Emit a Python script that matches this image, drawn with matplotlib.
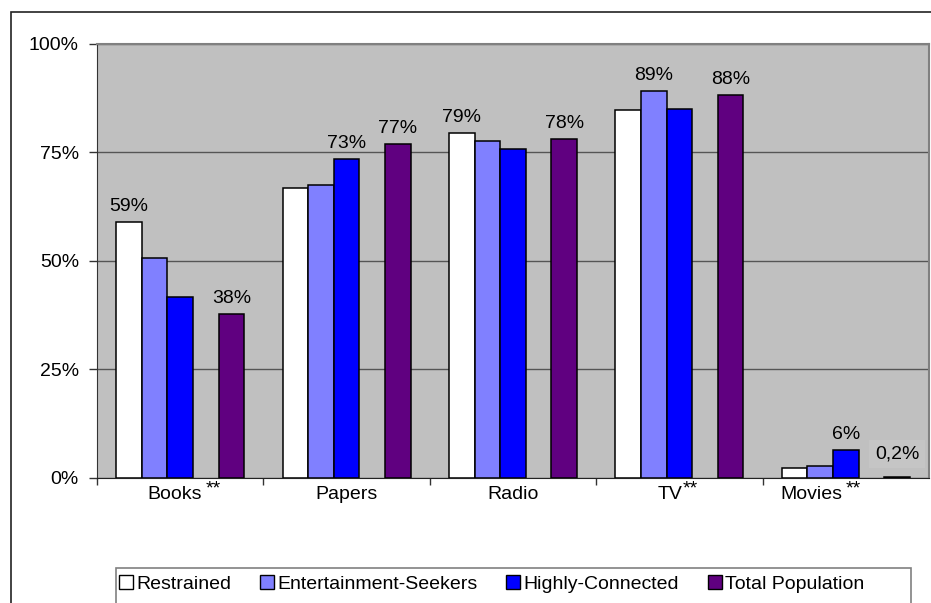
import matplotlib
matplotlib.use("Agg")
import matplotlib.pyplot as plt
from matplotlib.patches import Rectangle, Patch
from matplotlib.ticker import FixedLocator, NullFormatter
import numpy as np

plt.rcParams['font.family'] = ['Liberation Sans', 'DejaVu Sans']

categories = ["Books", "Papers", "Radio", "TV", "Movies"]
starred = [True, False, False, True, True]

series_names = ["Restrained", "Entertainment-Seekers", "Highly-Connected", "Total Population"]
restrained = [58.9, 66.7, 79.3, 84.6, 2.2]
ent_seekers = [50.6, 67.4, 77.6, 89.1, 2.8]
highly_conn = [41.7, 73.4, 75.7, 84.9, 6.4]
total_pop = [37.7, 76.9, 78.0, 88.1, 0.2]

# which bars carry a value label: (series index, category index, text)
value_labels = [
    (0, 0, "59%"), (3, 0, "38%"),
    (2, 1, "73%"), (3, 1, "77%"),
    (0, 2, "79%"), (3, 2, "78%"),
    (1, 3, "89%"), (3, 3, "88%"),
    (2, 4, "6%"), (3, 4, "0,2%"),
]

colors = ["#ffffff", "#8080ff", "#0000ff", "#600080"]
slots = [0, 1, 2, 4]          # fifth slot is left empty, like the sheet has it
all_series = [restrained, ent_seekers, highly_conn, total_pop]

FS = 14

fig = plt.figure(figsize=(9.31, 6.03), dpi=100)
W, H = 931.0, 603.0
ax = fig.add_axes([97 / W, 1 - 478 / H, 832 / W, (478 - 43.5) / H])
ax.set_facecolor("#c0c0c0")

cat_w = 166.4
bw = 25.6 / cat_w
margin = 19.2 / cat_w
x = np.arange(len(categories))

bars = []
for s, vals in enumerate(all_series):
    offs = -0.5 + margin + bw * (slots[s] + 0.5)
    b = ax.bar(x + offs, vals, width=bw, color=colors[s], edgecolor="black",
               linewidth=1.1, zorder=3, label=series_names[s])
    bars.append(b)

for s, c, txt in value_labels:
    rect = bars[s][c]
    cx = rect.get_x() + rect.get_width() / 2
    if txt == "0,2%":
        ax.text(cx, 5.5, txt, ha="center", va="center", fontsize=FS, zorder=4,
                bbox=dict(facecolor="#c5c5c5", edgecolor="none", pad=4))
    else:
        ax.annotate(txt, (cx, rect.get_height()), xytext=(0, 5),
                    textcoords="offset points", ha="center", va="bottom",
                    fontsize=FS, zorder=4)

ax.set_xlim(-0.5, len(categories) - 0.5)
ax.set_ylim(0, 100)
ax.set_yticks([0, 25, 50, 75, 100])
ax.set_yticklabels(["0%", "25%", "50%", "75%", "100%"], fontsize=FS)
ax.yaxis.grid(True, color="#555555", linewidth=1.0, zorder=1)
ax.tick_params(axis="y", length=6, width=1, pad=7, color="#333333")

# category boundaries carry the tick marks, names sit in between
ax.xaxis.set_major_locator(FixedLocator(x - 0.5))
ax.xaxis.set_major_formatter(NullFormatter())
ax.tick_params(axis="x", length=5, width=1, color="#333333")
name_x = [-0.031, 1.0, 2.0, 2.944, 3.791]
star_x = [0.197, None, None, 3.064, 4.043]
for i, name in enumerate(categories):
    ax.text(name_x[i], -1.8, name, ha="center", va="top", fontsize=FS)
    if starred[i]:
        ax.text(star_x[i], -0.6, "**", ha="center", va="top", fontsize=FS)

for side in ["top", "right"]:
    ax.spines[side].set_color("#808080")
    ax.spines[side].set_linewidth(1.5)
ax.spines["left"].set_color("#333333")
ax.spines["bottom"].set_color("#222222")

# legend: entries without frame, frame drawn as its own box
handles = [Patch(facecolor=colors[i], edgecolor="black", linewidth=1.0)
           for i in range(4)]
leg = fig.legend(handles, series_names, ncol=4, loc="center left",
                 bbox_to_anchor=(119 / W, 1 - 584 / H),
                 fontsize=FS, frameon=False,
                 handlelength=0.72, handleheight=0.72, handletextpad=0.15,
                 borderpad=0.0, borderaxespad=0.0, columnspacing=1.5)
fig.patches.append(Rectangle((116 / W, -0.1), 795 / W, 1 - 568 / H + 0.1,
                             transform=fig.transFigure, fill=False,
                             edgecolor="#808080", linewidth=1.2))

# chart area border, runs off the right and bottom edge
fig.patches.append(Rectangle((11 / W, -0.5), 2.0, 1 - 12 / H + 0.5,
                             transform=fig.transFigure, fill=False,
                             edgecolor="#222222", linewidth=1.2))

fig.savefig("out.png", dpi=100)
